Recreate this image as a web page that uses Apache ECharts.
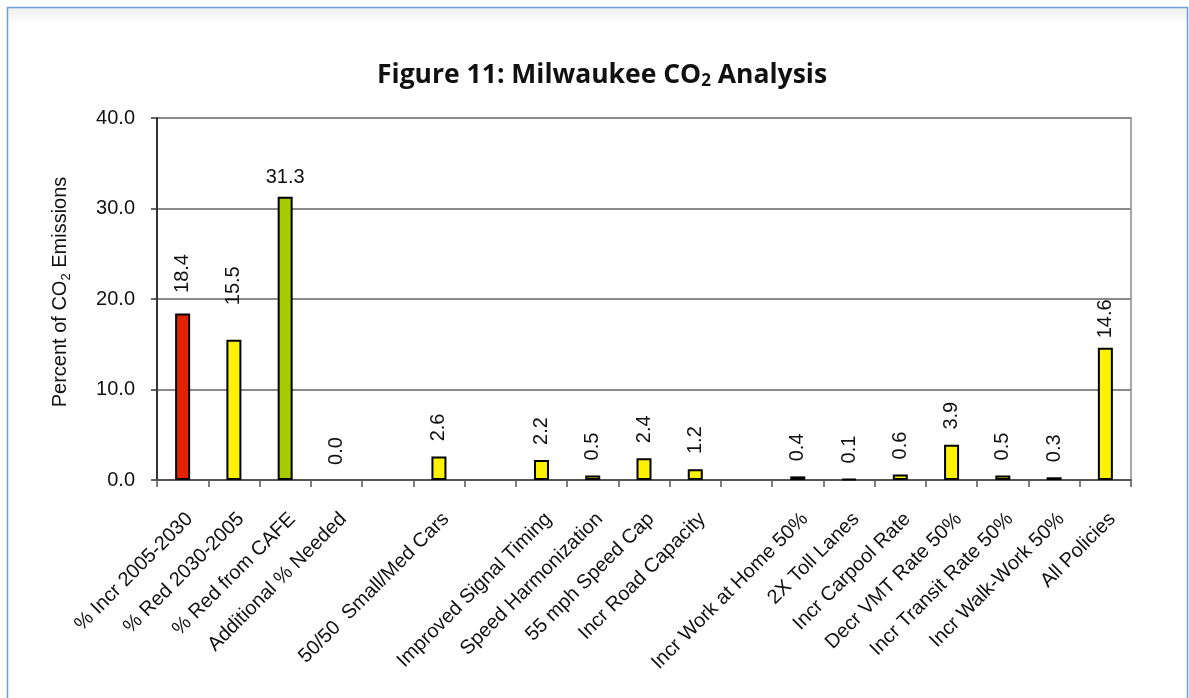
<!DOCTYPE html>
<html>
<head>
<meta charset="utf-8">
<style>
  html, body { margin: 0; padding: 0; background: #ffffff; }
  #chart { width: 1189px; height: 698px; }
</style>
<script src="https://cdn.jsdelivr.net/npm/echarts@6/dist/echarts.min.js"></script>
</head>
<body>
<div id="chart"></div>
<script>
// Policy scenarios (blank entries are spacer columns between groups)
var categories = [
  '% Incr 2005-2030', '% Red 2030-2005', '% Red from CAFE', 'Additional % Needed',
  '',
  '50/50  Small/Med Cars',
  '',
  'Improved Signal Timing', 'Speed Harmonization', '55 mph Speed Cap', 'Incr Road Capacity',
  '',
  'Incr Work at Home 50%', '2X Toll Lanes', 'Incr Carpool Rate', 'Decr VMT Rate 50%',
  'Incr Transit Rate 50%', 'Incr Walk-Work 50%', 'All Policies'
];

// Percent of CO2 emissions for each scenario
var percentValues = [
  18.4, 15.5, 31.3, 0.0,
  null,
  2.6,
  null,
  2.2, 0.5, 2.4, 1.2,
  null,
  0.4, 0.1, 0.6, 3.9, 0.5, 0.3, 14.6
];

var yTicks = [0, 10, 20, 30, 40];

var FONT = '"Liberation Sans", Arial, sans-serif';
var TITLE_FONT = '"Open Sans", Lato, sans-serif';

function barColor(i) {
  if (i === 0) return '#e52200';
  if (i === 2) return '#a5cb00';
  return '#fff200';
}

// distance from bar top to the centre of its rotated value label
function labelDistance(i) {
  if (i === 0) return 40;
  if (i === 1) return 54;
  return 29;
}

var seriesData = percentValues.map(function (v, i) {
  if (v === null) return { value: '-' };
  var item = {
    value: v,
    itemStyle: { color: barColor(i), borderColor: '#000', borderWidth: v === 0 ? 0 : 2 }
  };
  if (i === 2) {
    item.label = { rotate: 0, align: 'center', verticalAlign: 'bottom', distance: 9 };
  } else {
    item.label = { rotate: 90, align: 'center', verticalAlign: 'middle', distance: labelDistance(i) };
  }
  return item;
});

var chart = echarts.init(document.getElementById('chart'), null, { renderer: 'canvas' });

chart.setOption({
  animation: false,
  backgroundColor: '#ffffff',
  graphic: [
    {
      type: 'rect', silent: true, z: -10,
      shape: { x: 8, y: 8, width: 1180, height: 16 },
      style: {
        fill: new echarts.graphic.LinearGradient(0, 0, 0, 1, [
          { offset: 0, color: '#eeeeee' }, { offset: 1, color: '#ffffff' }
        ])
      }
    },
    {
      type: 'rect', silent: true, z: 100,
      shape: { x: 7.5, y: 7.5, width: 1180, height: 740 },
      style: { fill: 'none', stroke: '#6f9fd8', lineWidth: 1.5 }
    }
  ],
  title: {
    text: '{t|Figure 11: Milwaukee CO}{s|2}{t| Analysis}',
    left: 377,
    top: 60,
    padding: 0,
    textStyle: {
      rich: {
        t: { fontFamily: TITLE_FONT, fontWeight: 'bold', fontSize: 26.5, color: '#111' },
        s: { fontFamily: TITLE_FONT, fontWeight: 'bold', fontSize: 17, color: '#111', padding: [13, 0, 0, 0] }
      }
    }
  },
  grid: {
    left: 157, right: 58, top: 118, bottom: 218,
    show: true, borderColor: '#a8a8a8', borderWidth: 2, backgroundColor: '#ffffff'
  },
  xAxis: {
    type: 'category',
    data: categories,
    axisLine: { lineStyle: { color: '#555', width: 2 } },
    axisTick: { show: true, length: 7, alignWithLabel: false, lineStyle: { color: '#555', width: 1.5 } },
    axisLabel: {
      interval: 0,
      rotate: 45,
      margin: 29,
      verticalAlign: 'top',
      fontFamily: FONT,
      fontSize: 20,
      color: '#111'
    }
  },
  yAxis: {
    type: 'value',
    min: yTicks[0],
    max: yTicks[yTicks.length - 1],
    interval: 10,
    name: '{n|Percent of CO}{s|2}{n| Emissions}',
    nameLocation: 'middle',
    nameGap: 84,
    nameTextStyle: {
      padding: [0, 0, 0, 14],
      rich: {
        n: { fontFamily: FONT, fontSize: 20, color: '#111' },
        s: { fontFamily: FONT, fontSize: 13, color: '#111', padding: [12, 0, 0, 0] }
      }
    },
    axisLine: { show: true, lineStyle: { color: '#333', width: 2 } },
    axisTick: { show: true, length: 6, lineStyle: { color: '#333', width: 1.5 } },
    axisLabel: {
      margin: 22,
      fontFamily: FONT,
      fontSize: 20,
      color: '#111',
      formatter: function (v) { return v.toFixed(1); }
    },
    splitLine: { show: true, lineStyle: { color: '#8a8a8a', width: 2 } }
  },
  series: [{
    type: 'bar',
    data: seriesData,
    barWidth: 15,
    label: {
      show: true,
      position: 'top',
      fontFamily: FONT,
      fontSize: 20,
      color: '#111',
      formatter: function (p) { return Number(p.value).toFixed(1); }
    }
  }]
});
</script>
</body>
</html>
